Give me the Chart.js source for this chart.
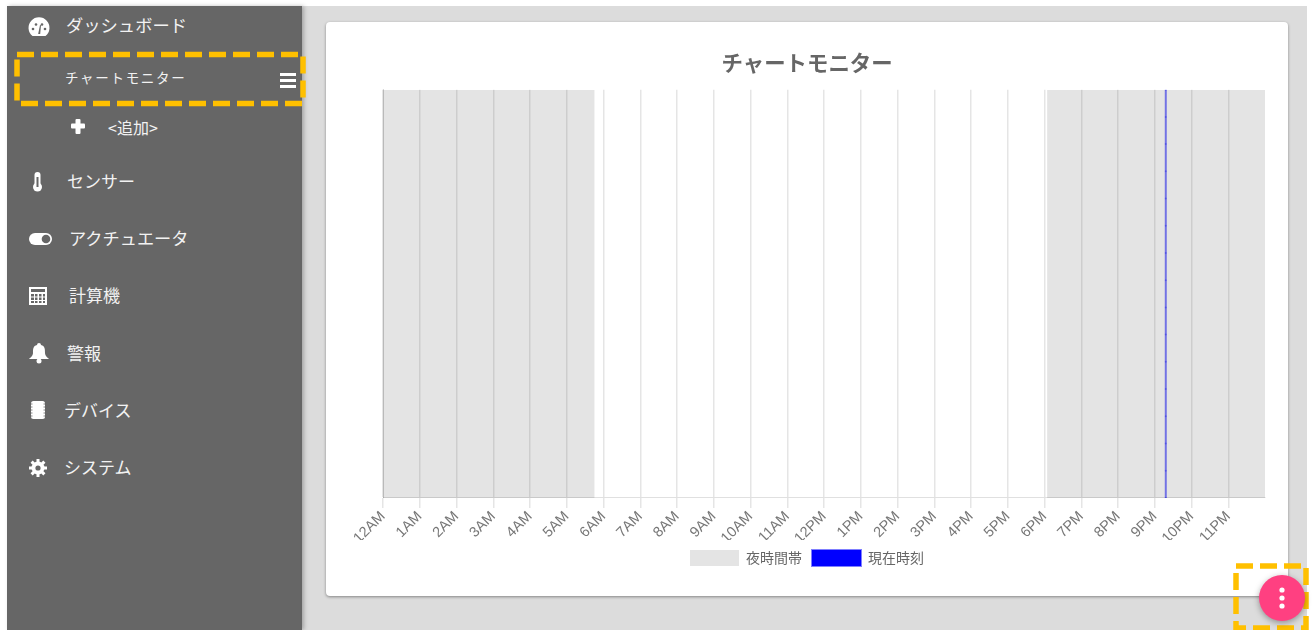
<!DOCTYPE html>
<html lang="ja">
<head>
<meta charset="utf-8">
<title>チャートモニター</title>
<script src="https://cdn.jsdelivr.net/npm/chart.js@4/dist/chart.umd.min.js"></script>
<style>
  html, body { margin: 0; padding: 0; width: 1314px; height: 630px; overflow: hidden; background: #fff; }
  body { position: relative; font-family: "Noto Sans CJK JP", sans-serif; }
  #main { position: absolute; left: 302px; top: 6px; width: 1005px; height: 624px; background: #dcdcdc; }
  #side { position: absolute; left: 7px; top: 6px; width: 295px; height: 624px; background: #666; box-shadow: 2px 0 4px rgba(0,0,0,.25); }
  #card { position: absolute; left: 326px; top: 22px; width: 962px; height: 574px; background: #fff; border-radius: 4px; box-shadow: 0 1px 3px rgba(0,0,0,.4); }
  #chart { position: absolute; left: 0; top: 0; }
  .item { position: absolute; color: #f2f2f2; font-size: 17px; line-height: 24px; white-space: nowrap; transform: translateY(-12px); }
  .icon { position: absolute; }
  #overlay { position: absolute; left: 0; top: 0; }
  #fab { position: absolute; left: 1259px; top: 575px; width: 46px; height: 46px; border-radius: 50%; background: #ff4081; box-shadow: 0 2px 6px rgba(0,0,0,.35); }
</style>
</head>
<body>
<div id="main"></div>
<div id="side"></div>

<div class="item" style="left:66px;top:25px;font-size:17.3px">ダッシュボード</div>
<div class="item" style="left:65px;top:77px;font-size:13.5px;letter-spacing:1.7px">チャートモニター</div>
<div class="item" style="left:108px;top:127px;font-size:16px">&lt;追加&gt;</div>
<div class="item" style="left:67px;top:181px">センサー</div>
<div class="item" style="left:69px;top:238px;font-size:17.2px">アクチュエータ</div>
<div class="item" style="left:69px;top:295px">計算機</div>
<div class="item" style="left:67px;top:353px">警報</div>
<div class="item" style="left:64px;top:410px">デバイス</div>
<div class="item" style="left:64px;top:467px">システム</div>

<div id="card"><canvas id="chart" width="962" height="574"></canvas></div>

<svg id="overlay" width="1314" height="630" xmlns="http://www.w3.org/2000/svg">
  <!-- sidebar icons -->
  <g fill="#fff">
    <path d="M32.500 36a10.500 10.500 0 1 1 13 0z" />
    <circle cx="33" cy="29" r="1.300" fill="#666"/><circle cx="36" cy="24.500" r="1.300" fill="#666"/>
    <circle cx="42" cy="24.500" r="1.300" fill="#666"/><circle cx="45" cy="29" r="1.300" fill="#666"/>
    <path d="M38.200 34l1.800-9 1 0.200-0.800 8.800z" fill="#666"/>
    <rect x="75.500" y="119" width="5" height="15" rx="1"/><rect x="71" y="123.500" width="14" height="5" rx="1"/>
    <rect x="34.500" y="172" width="6" height="14" rx="3"/><circle cx="37.500" cy="187" r="4.500"/>
    <rect x="36.500" y="177" width="2" height="10" fill="#666"/>
    <rect x="29" y="233" width="23" height="12" rx="6"/><circle cx="46" cy="239" r="4.300" fill="#666"/>
    <path d="M29 287h18v18h-18z"/>
    <path d="M31 289h14v3h-14z" fill="#666"/>
    <path d="M31 294h3v2.500h-3zM35 294h2.500v2.500h-2.500zM39 294h2.500v2.500h-2.500zM43 294h2v2.500h-2zM31 297.500h3v2.500h-3zM35 297.500h2.500v2.500h-2.500zM39 297.500h2.500v2.500h-2.500zM43 297.500h2v2.500h-2zM31 301h3v2h-3zM35 301h2.500v2h-2.500zM39 301h2.500v2h-2.500zM43 301h2v2h-2z" fill="#666"/>
    <path d="M39 343a2 2 0 0 1 2 2c4 1 4 4 4 8 0 3 3 5 4 6h-20c1-1 4-3 4-6 0-4 0-7 4-8a2 2 0 0 1 2-2z"/>
    <circle cx="39" cy="361" r="2.500"/>
    <rect x="31" y="401" width="14" height="18" rx="2.500"/>
    <path d="M30 404h2.500M30 407h2.500M30 410h2.500M30 413h2.500M30 416h2.500M43.500 404h2.500M43.500 407h2.500M43.500 410h2.500M43.500 413h2.500M43.500 416h2.500" stroke="#666" stroke-width="0.800"/>
    <circle cx="38" cy="468" r="6.500"/>
    <path d="M38 459v18M29 468h18M31.600 461.600l12.800 12.800M44.400 461.600l-12.800 12.800" stroke="#fff" stroke-width="3"/>
    <circle cx="38" cy="468" r="2.600" fill="#666"/>
    <rect x="280" y="73" width="16" height="3"/><rect x="280" y="79" width="16" height="3"/><rect x="280" y="85" width="16" height="3"/>
  </g>
  <!-- highlight boxes -->
  <rect x="17" y="54.500" width="286" height="49" fill="none" stroke="#ffc000" stroke-width="5.500" stroke-dasharray="17 7"/>
  <rect x="1236" y="566" width="70" height="62" fill="none" stroke="#ffc000" stroke-width="5.500" stroke-dasharray="17 7"/>
</svg>

<div id="fab"></div>
<svg class="icon" style="left:1259px;top:575px" width="46" height="46" xmlns="http://www.w3.org/2000/svg">
  <circle cx="23" cy="15" r="2.600" fill="#fff"/><circle cx="23" cy="23" r="2.600" fill="#fff"/><circle cx="23" cy="31" r="2.600" fill="#fff"/>
</svg>

<script>
// AXIS LABELS
const hourLabels = [
  "12AM", "1AM", "2AM", "3AM", "4AM", "5AM", "6AM", "7AM", "8AM", "9AM", "10AM", "11AM",
  "12PM", "1PM", "2PM", "3PM", "4PM", "5PM", "6PM", "7PM", "8PM", "9PM", "10PM", "11PM"
];

// NIGHT HOURS (sunset / sunrise)
const morningNightHours = [0, 5.76];
const eveningNightHours = [18.07, 24];

// CURRENT TIME
const nowHour = 21.3;
const nowLevels = [0, 1, 2, 3, 4, 5, 6, 7, 8, 9, 10, 11, 12, 13, 14, 15];

const topLevel = 15;
const textFont = "'Noto Sans CJK JP', sans-serif";

new Chart(document.getElementById("chart"), {
  type: "line",
  data: {
    datasets: [
      {
        label: "夜時間帯",
        data: morningNightHours.map((h) => ({ x: h, y: topLevel })),
        backgroundColor: "rgba(0,0,0,0.105)",
        borderWidth: 0,
        pointRadius: 0,
        fill: "origin"
      },
      {
        label: "夜時間帯(夕)",
        data: eveningNightHours.map((h) => ({ x: h, y: topLevel })),
        backgroundColor: "rgba(0,0,0,0.105)",
        borderWidth: 0,
        pointRadius: 0,
        fill: "origin"
      },
      {
        label: "現在時刻",
        data: nowLevels.map((v) => ({ x: nowHour, y: v })),
        backgroundColor: "#0000ff",
        borderColor: "rgba(0,0,255,0.5)",
        borderWidth: 2,
        pointRadius: 1,
        pointBackgroundColor: "rgba(0,0,255,0.3)",
        pointBorderWidth: 0
      }
    ]
  },
  options: {
    responsive: false,
    animation: false,
    layout: {
      padding: { left: 23, right: 23, top: 28, bottom: 20 }
    },
    plugins: {
      title: {
        display: true,
        text: "チャートモニター",
        color: "#666",
        font: { family: textFont, size: 21.4, weight: "bold" },
        padding: { top: 0, bottom: 14 }
      },
      legend: {
        position: "bottom",
        labels: {
          color: "#666",
          boxWidth: 49,
          boxHeight: 16,
          font: { family: textFont, size: 14 },
          filter: (item) => item.text !== "夜時間帯(夕)"
        }
      },
      tooltip: { enabled: false }
    },
    scales: {
      x: {
        type: "linear",
        min: 0,
        max: 24,
        afterFit: (axis) => { axis.height -= 7; },
        grid: {
          color: (ctx) => (ctx.tick && ctx.tick.value === 24 ? "rgba(0,0,0,0)" : "rgba(0,0,0,0.1)"),
          lineWidth: 1.5,
          tickLength: 10
        },
        border: { color: "rgba(0,0,0,0.12)" },
        ticks: {
          stepSize: 1,
          autoSkip: false,
          maxRotation: 45,
          minRotation: 45,
          padding: 0,
          color: "#777",
          font: { family: "'Liberation Sans', Arial, sans-serif", size: 14.5 },
          callback: (value) => hourLabels[value]
        }
      },
      y: {
        min: 0,
        max: topLevel,
        afterFit: (axis) => { axis.width = 34; },
        grid: { display: false },
        border: { color: "rgba(0,0,0,0.15)" },
        ticks: { display: false }
      }
    }
  }
});
</script>
</body>
</html>
